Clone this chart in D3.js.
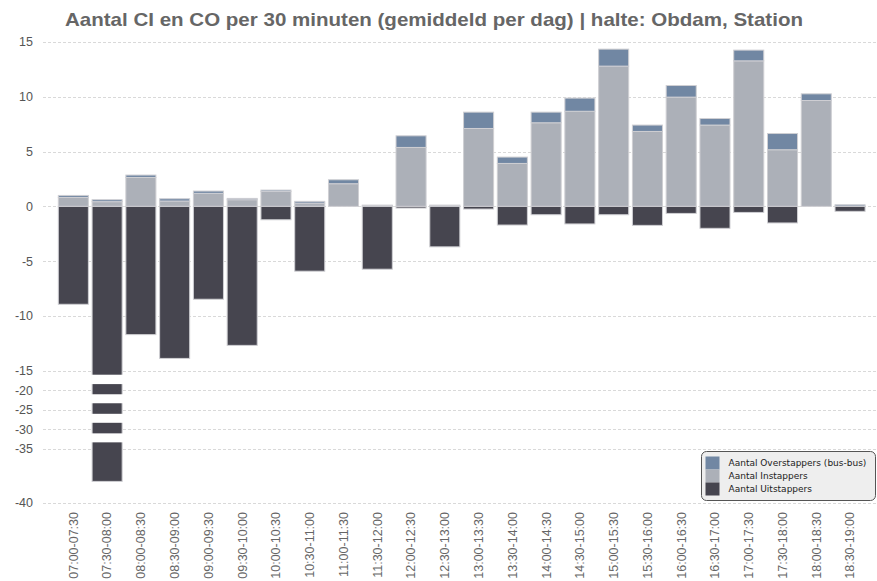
<!DOCTYPE html>
<html>
<head>
<meta charset="utf-8">
<script src="https://cdn.jsdelivr.net/npm/d3@7"></script>
<style>
  body { margin: 0; background: #fff; }
  svg { display: block; font-family: "Liberation Sans", Arial, sans-serif; }
</style>
</head>
<body>
<svg id="chart" width="877" height="581"></svg>
<script>
var slots = ["07:00-07:30", "07:30-08:00", "08:00-08:30", "08:30-09:00", "09:00-09:30", "09:30-10:00",
  "10:00-10:30", "10:30-11:00", "11:00-11:30", "11:30-12:00", "12:00-12:30", "12:30-13:00",
  "13:00-13:30", "13:30-14:00", "14:00-14:30", "14:30-15:00", "15:00-15:30", "15:30-16:00",
  "16:00-16:30", "16:30-17:00", "17:00-17:30", "17:30-18:00", "18:00-18:30", "18:30-19:00"]

var instappers   = [0.82, 0.43, 2.64, 0.49, 1.19, 0.61, 1.37, 0.30, 2.07, 0.03, 5.38, 0.03,
                    7.11, 3.92, 7.63, 8.68, 12.8, 6.84, 9.97, 7.42, 13.28, 5.17, 9.66, 0.02]
var overstappers = [0.18, 0.18, 0.22, 0.21, 0.21, 0.12, 0.12, 0.16, 0.36, 0.09, 1.06, 0.09,
                    1.49, 0.58, 0.97, 1.20, 1.55, 0.58, 1.06, 0.60, 0.98, 1.48, 0.61, 0.13]
var uitstappers  = [-8.93, -38, -11.7, -13.87, -8.47, -12.68, -1.22, -5.91, 0, -5.73, -0.15, -3.69,
                    -0.24, -1.70, -0.76, -1.60, -0.76, -1.73, -0.64, -2.00, -0.55, -1.51, 0, -0.45]

var yTicks = [15, 10, 5, 0, -5, -10, -15, -20, -25, -30, -35, -40]
// compressed part of the axis below -15, shown as gaps in the bar
var axisBreaks = [[-16, -18.4], [-21, -23.3], [-26, -28.3], [-31, -33.3]]

var seriesNames = ["Aantal Overstappers (bus-bus)", "Aantal Instappers", "Aantal Uitstappers"]
var colors = { inst: "#acb0b8", over: "#7187a3", uit: "#46454f" }

var svg = d3.select("#chart")

var rows = slots.map(function(s, i) {
  return { slot: s, inst: instappers[i], over: overstappers[i], uit: uitstappers[i] }
})

var x = d3.scaleBand().domain(slots).range([54.6, 868.8]).paddingInner(0.11).paddingOuter(0.11)
// piecewise scale: linear to -15, compressed after
var y = d3.scaleLinear().domain([15, -15, -35, -40]).range([42, 370.8, 449, 503])

// title
svg.append("text")
  .attr("x", 434)
  .attr("y", 26)
  .attr("text-anchor", "middle")
  .attr("textLength", 738)
  .attr("lengthAdjust", "spacingAndGlyphs")
  .style("font-size", "19px")
  .style("font-weight", "bold")
  .style("fill", "#666")
  .text("Aantal CI en CO per 30 minuten (gemiddeld per dag) | halte: Obdam, Station")

// grid
svg.append("g").selectAll("line")
  .data(yTicks)
  .enter().append("line")
  .attr("x1", 43).attr("x2", 877)
  .attr("y1", d => Math.round(y(d)) + 0.5)
  .attr("y2", d => Math.round(y(d)) + 0.5)
  .style("stroke", "#d9d9d9")
  .style("stroke-dasharray", "3,2")

svg.append("g").selectAll("text")
  .data(yTicks)
  .enter().append("text")
  .attr("x", 33)
  .attr("y", d => y(d))
  .attr("dy", "0.35em")
  .attr("text-anchor", "end")
  .style("font-size", "12.5px")
  .style("fill", "#555")
  .text(d => d)

// bars
var stack = d3.stack().keys(["inst", "over", "uit"]).offset(d3.stackOffsetDiverging)
var layers = stack(rows)

svg.append("g").selectAll("g")
  .data(layers)
  .enter().append("g")
  .style("fill", d => colors[d.key])
  .selectAll("rect")
  .data(d => d)
  .enter().append("rect")
  .attr("x", d => x(d.data.slot))
  .attr("width", x.bandwidth())
  .attr("y", d => y(Math.max(d[0], d[1])))
  .attr("height", d => Math.abs(y(d[0]) - y(d[1])))
  .style("stroke", "#cfcfd3")
  .style("stroke-width", 1)

// gaps for the compressed part
rows.forEach(function(r) {
  axisBreaks.forEach(function(b) {
    if (r.uit < b[1]) {
      svg.append("rect")
        .attr("x", x(r.slot) - 1)
        .attr("width", x.bandwidth() + 2)
        .attr("y", y(b[0]))
        .attr("height", y(b[1]) - y(b[0]))
        .style("fill", "#fff")
    }
  })
})

// x labels
svg.append("g").selectAll("text")
  .data(slots)
  .enter().append("text")
  .attr("transform", d => "translate(" + (x(d) + x.bandwidth() / 2) + ",512) rotate(-90)")
  .attr("dy", "0.35em")
  .attr("text-anchor", "end")
  .style("font-size", "12.5px")
  .style("fill", "#666")
  .text(d => d)

// legend
var legend = svg.append("g").attr("transform", "translate(701.5,451.5)")
legend.append("rect")
  .attr("width", 174).attr("height", 49)
  .attr("rx", 5)
  .style("fill", "#eeeeee")
  .style("stroke", "#555")
var legendColors = [colors.over, colors.inst, colors.uit]
seriesNames.forEach(function(name, i) {
  legend.append("rect")
    .attr("x", 4).attr("y", 5 + i * 13)
    .attr("width", 14).attr("height", 13)
    .style("fill", legendColors[i])
  legend.append("text")
    .attr("x", 27).attr("y", 11.5 + i * 13)
    .attr("dy", "0.35em")
    .style("font-family", "DejaVu Sans")
    .style("font-size", "9px")
    .style("fill", "#222")
    .text(name)
})
</script>
</body>
</html>
